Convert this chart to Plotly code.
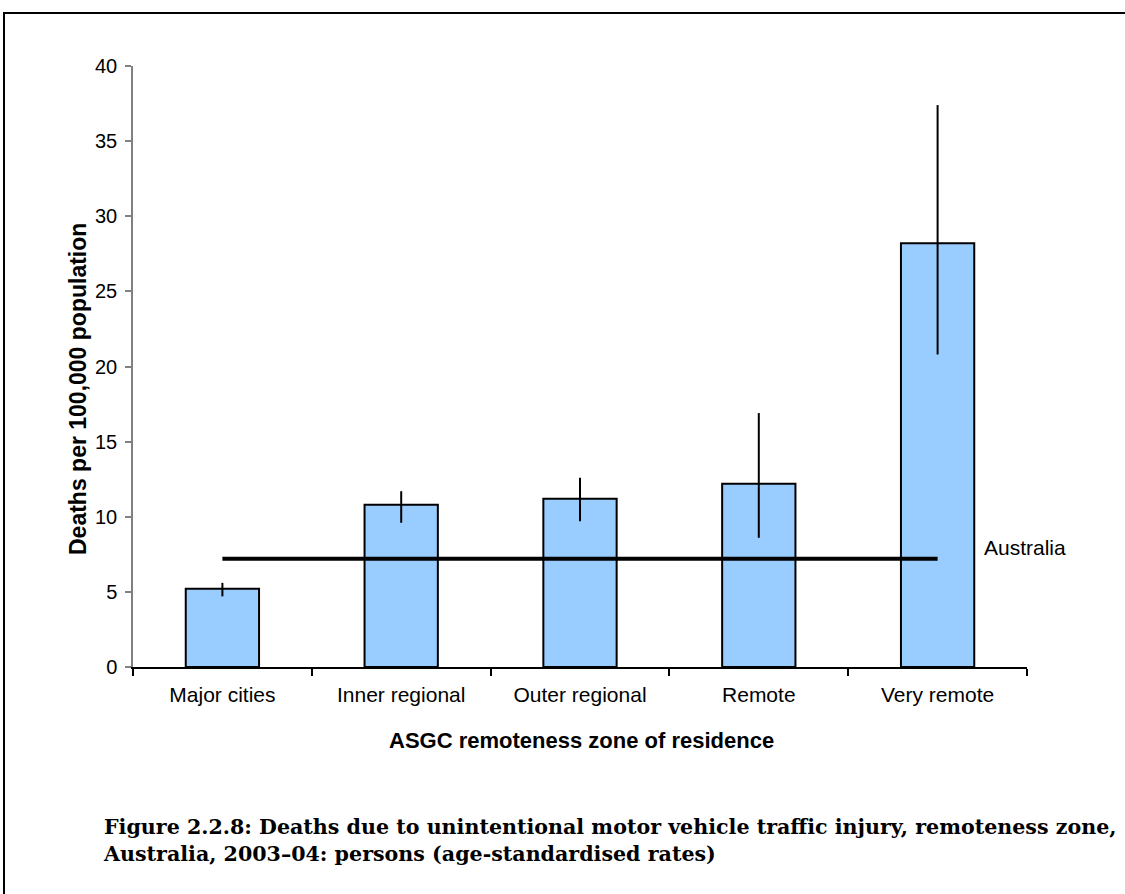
import plotly.graph_objects as go

categories = ["Major cities", "Inner regional", "Outer regional", "Remote", "Very remote"]
rates = [5.2, 10.8, 11.2, 12.2, 28.2]
ci_lower = [4.7, 9.6, 9.7, 8.6, 20.8]
ci_upper = [5.6, 11.7, 12.6, 16.9, 37.4]
australia_rate = 7.2
australia_label = "Australia"
y_ticks = [0, 5, 10, 15, 20, 25, 30, 35, 40]

xpos = list(range(len(categories)))
err_plus = [u - r for u, r in zip(ci_upper, rates)]
err_minus = [r - l for r, l in zip(rates, ci_lower)]

FONT = "Liberation Sans, Arial, sans-serif"
L, R, T, B = 133, 1027, 66, 667
PW, PH = R - L, B - T


def px(x):
    return (x - L) / PW


def py(y):
    return (B - y) / PH


fig = go.Figure()
fig.add_trace(go.Bar(
    x=xpos, y=rates,
    marker=dict(color="#99CCFF", line=dict(color="black", width=2)),
    width=0.41,
    error_y=dict(type="data", array=err_plus, arrayminus=err_minus,
                 symmetric=False, width=0, thickness=2, color="black"),
    showlegend=False, hoverinfo="skip",
))
fig.add_trace(go.Scatter(
    x=[xpos[0], xpos[-1]], y=[australia_rate, australia_rate],
    mode="lines", line=dict(color="black", width=4),
    showlegend=False, hoverinfo="skip",
))

fig.update_layout(
    width=1125, height=894,
    margin=dict(l=L, r=1125 - R, t=T, b=894 - B),
    paper_bgcolor="white", plot_bgcolor="white",
    font=dict(family=FONT, color="black", size=21),
    xaxis=dict(
        range=[-0.5, 4.5], tickmode="array", tickvals=xpos, ticktext=categories,
        ticks="", ticklen=0, showline=True, linecolor="black", linewidth=1.5,
        showgrid=False, zeroline=False, tickfont=dict(size=21, family=FONT),
        ticklabelstandoff=8,
        minor=dict(tick0=0.5, dtick=1, ticks="outside", ticklen=7,
                   tickcolor="black", tickwidth=1.5, showgrid=False),
        fixedrange=True,
    ),
    yaxis=dict(
        range=[0, 40], tickmode="array", tickvals=y_ticks,
        ticks="outside", ticklen=6, tickcolor="#808080", tickwidth=1.5,
        showline=True, linecolor="#808080", linewidth=1.5,
        showgrid=False, zeroline=False, tickfont=dict(size=20, family=FONT),
        ticklabelstandoff=4,
        fixedrange=True,
    ),
    annotations=[
        dict(text="<b>Deaths per 100,000 population</b>", textangle=-90,
             xref="paper", yref="paper", x=px(78), y=py(389),
             xanchor="center", yanchor="middle",
             showarrow=False, font=dict(size=23, family=FONT)),
        dict(text="<b>ASGC remoteness zone of residence</b>",
             xref="paper", yref="paper", x=px(581), y=py(741),
             xanchor="center", yanchor="middle",
             showarrow=False, font=dict(size=22, family=FONT)),
        dict(text=australia_label, xref="x", yref="y", x=4.25, y=australia_rate + 0.75,
             xanchor="left", showarrow=False, font=dict(size=21, family=FONT)),
        dict(text="<b>Figure 2.2.8: Deaths due to unintentional motor vehicle traffic injury, remoteness zone,<br>"
                  "Australia, 2003–04: persons (age-standardised rates)</b>",
             xref="paper", yref="paper", x=px(101), y=py(813),
             xanchor="left", yanchor="top", align="left", showarrow=False,
             font=dict(size=20.6, family="DejaVu Serif, serif")),
    ],
    shapes=[
        dict(type="rect", xref="paper", yref="paper",
             x0=px(4), x1=px(1140), y0=py(910), y1=py(13),
             line=dict(color="black", width=2), fillcolor="rgba(0,0,0,0)", layer="below"),
    ],
)

fig.write_html("out.html", config={"displayModeBar": False},
               post_script="document.body.style.margin='0';")
